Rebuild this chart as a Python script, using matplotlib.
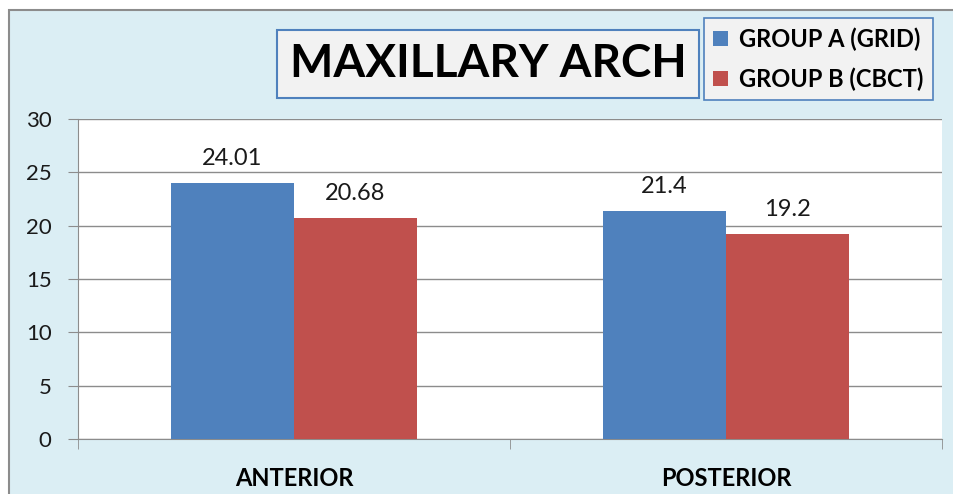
import matplotlib.pyplot as plt
import matplotlib.patches as mpatches
import numpy as np

categories = ["ANTERIOR", "POSTERIOR"]
group_a = [24.01, 21.4]
group_b = [20.68, 19.2]
label_a = ["24.01", "21.4"]
label_b = ["20.68", "19.2"]
series_names = ["GROUP A (GRID)", "GROUP B (CBCT)"]

plt.rcParams['font.family'] = ['Lato', 'DejaVu Sans']

blue = "#4F81BD"
red = "#C0504D"
bg = "#DBEEF4"
gridc = "#8C8C8C"

fig = plt.figure(figsize=(9.54, 4.94), dpi=100)
fig.patch.set_facecolor("white")

# outer chart area with gray border
outer = mpatches.Rectangle((9 / 954, -0.05), 1.1, 1 - 10 / 494 + 0.05, transform=fig.transFigure,
                           facecolor=bg, edgecolor="#8C8C8C", linewidth=1.5, zorder=-5)
fig.patches.append(outer)

ax = fig.add_axes([78 / 954, 1 - 439 / 494, (942 - 78) / 954, (439 - 119) / 494])
ax.set_zorder(1)
ax.set_facecolor("white")

x = np.arange(len(categories))
w = 0.285
bars_a = ax.bar(x - w / 2, group_a, w, color=blue, zorder=3, label=series_names[0])
bars_b = ax.bar(x + w / 2, group_b, w, color=red, zorder=3, label=series_names[1])

for xi, v, t in zip(x - w / 2, group_a, label_a):
    ax.text(xi, v + 1.7, t, ha="center", va="baseline", fontsize=17, color="#1a1a1a")
for xi, v, t in zip(x + w / 2, group_b, label_b):
    ax.text(xi, v + 1.7, t, ha="center", va="baseline", fontsize=17, color="#1a1a1a")

ax.set_ylim(0, 30)
ax.set_xlim(-0.5, 1.5)
ax.set_yticks(range(0, 31, 5))
ax.yaxis.grid(True, color=gridc, linewidth=1, zorder=0)
ax.set_axisbelow(True)

ax.set_xticks(x)
ax.set_xticklabels(categories, fontsize=17, fontweight="bold")
ax.set_xticks([-0.5, 0.5, 1.5], minor=True)
ax.tick_params(axis="x", which="major", length=0, pad=20)
ax.tick_params(axis="x", which="minor", length=7, color=gridc)
ax.tick_params(axis="y", length=7, color=gridc, labelsize=16, labelcolor="#1a1a1a", pad=12)

for s in ["top", "right"]:
    ax.spines[s].set_visible(False)
ax.spines["left"].set_color(gridc)
ax.spines["bottom"].set_color(gridc)

# title in a box
fig.text(488 / 954, 1 - 64 / 494, "MAXILLARY ARCH", ha="center", va="center",
         fontsize=33, fontweight="bold", zorder=5,
         bbox=dict(boxstyle="square,pad=0.28", facecolor="#F2F2F2", edgecolor=blue, linewidth=1.5))

leg = fig.legend(handles=[bars_a, bars_b], loc="upper left",
                 bbox_to_anchor=(704 / 954, 1 - 18 / 494),
                 prop={"size": 17, "weight": "bold"}, frameon=True, fancybox=False,
                 handlelength=0.6, handleheight=0.6, handletextpad=0.5,
                 borderpad=0.4, labelspacing=0.7, borderaxespad=0)
leg.get_frame().set_facecolor("#F2F2F2")
leg.get_frame().set_edgecolor(blue)
leg.get_frame().set_linewidth(1.2)
leg.get_frame().set_alpha(1)
leg.set_zorder(5)

fig.savefig("out.png", dpi=100)
